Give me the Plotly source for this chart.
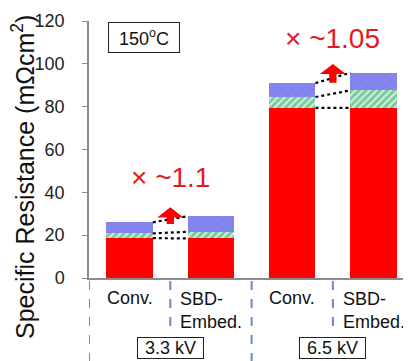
import plotly.graph_objects as go

# ---- data ----
categories = ["Conv. 3.3kV", "SBD-Embed. 3.3kV", "Conv. 6.5kV", "SBD-Embed. 6.5kV"]
red_vals = [18.6, 18.5, 79.4, 79.4]
green_vals = [2.2, 3.1, 5.1, 8.2]
blue_vals = [5.2, 7.3, 6.5, 8.25]
x_labels = ["Conv.", "SBD-<br>Embed.", "Conv.", "SBD-<br>Embed."]
group_labels = ["3.3 kV", "6.5 kV"]
ratio_labels = ["× ~1.1", "× ~1.05"]
y_ticks = [0, 20, 40, 60, 80, 100, 120]

xs = list(range(len(categories)))
W = 0.57
FONT = "Liberation Sans, Arial, sans-serif"

# plot area in screen pixels (page body has an 8px margin)
PX_L, PX_R, PX_T, PX_B = 89, 411, 21, 278
PW, PH = PX_R - PX_L, PX_B - PX_T


def px(x):
    return (x - PX_L) / PW


def py(y):
    return (PX_B - y) / PH


fig = go.Figure()
fig.add_trace(go.Bar(x=xs, y=red_vals, width=W, marker=dict(color="#ff0000", line=dict(width=0)),
                     showlegend=False, hoverinfo="skip"))
fig.add_trace(go.Bar(x=xs, y=green_vals, width=W,
                     marker=dict(color="#d0f2df", line=dict(width=0),
                                 pattern=dict(shape="/", fgcolor="#25a05c", bgcolor="#d0f2df",
                                              size=5, solidity=0.6, fillmode="overlay")),
                     showlegend=False, hoverinfo="skip"))
fig.add_trace(go.Bar(x=xs, y=blue_vals, width=W,
                     marker=dict(color="#8282f0", line=dict(width=0),
                                 pattern=dict(shape="x", fgcolor="#a6a6c6", bgcolor="#8282f0",
                                              size=7, solidity=0.15, fillmode="overlay")),
                     showlegend=False, hoverinfo="skip"))

# cumulative tops
tops = []
for i in xs:
    r = red_vals[i]
    g = r + green_vals[i]
    b = g + blue_vals[i]
    tops.append([r, g, b])

shapes = []
annotations = []
label_offsets = [17.8, 16.2]
for gi, (a, bidx) in enumerate([(0, 1), (2, 3)]):
    x0 = a + W / 2
    x1 = bidx - W / 2
    for k in range(3):
        fig.add_trace(go.Scatter(x=[x0, x1], y=[tops[a][k], tops[bidx][k]], mode="lines",
                                 line=dict(color="black", width=2.2, dash="dot"),
                                 showlegend=False, hoverinfo="skip"))
    # fat arrow
    xc = a + 0.5
    base = (tops[a][2] + tops[bidx][2]) / 2 - 2.2
    tip = tops[bidx][2] + 4.1
    hh = 4.7
    sw = 0.045
    hw = 0.16
    path = (f"M {xc-sw} {base} L {xc-sw} {tip-hh} L {xc-hw} {tip-hh} L {xc} {tip} "
            f"L {xc+hw} {tip-hh} L {xc+sw} {tip-hh} L {xc+sw} {base} Z")
    shapes.append(dict(type="path", path=path, xref="x", yref="y", fillcolor="#ff0000",
                       line=dict(width=0), layer="above"))
    # ratio label
    annotations.append(dict(x=xc, y=tops[bidx][2] + label_offsets[gi], xref="x", yref="y",
                            xanchor="center", yanchor="middle",
                            text=ratio_labels[gi], showarrow=False,
                            font=dict(size=28, color="#e3191f", family=FONT)))
    # group box
    annotations.append(dict(x=xc, y=py(348), xref="x", yref="paper", text=group_labels[gi],
                            xanchor="center", yanchor="middle",
                            showarrow=False, font=dict(size=18, color="#111", family=FONT),
                            bordercolor="#222", borderwidth=1, borderpad=1, width=63, height=18,
                            bgcolor="white"))

# category labels
for i in xs:
    two = "<br>" in x_labels[i]
    annotations.append(dict(x=i, y=py(310) if two else py(298), xref="x", yref="paper",
                            xanchor="center", yanchor="middle",
                            text=x_labels[i], showarrow=False, align="left",
                            font=dict(size=18, color="#111", family=FONT)))

# dashed separators
for j, xb in enumerate([-0.5, 0.5, 1.5, 2.5, 3.5]):
    full = (j % 2 == 0)
    shapes.append(dict(type="line", xref="x", yref="paper", x0=xb, x1=xb,
                       y0=py(281), y1=py(361) if full else py(328),
                       line=dict(color="#6a8ac6", width=2, dash="dash")))

# 150C box
annotations.append(dict(x=px(144), y=py(37.5), xref="paper", yref="paper", text="150<sup>o</sup>C",
                        xanchor="center", yanchor="middle",
                        showarrow=False, font=dict(size=18, color="#111", family=FONT),
                        bordercolor="#222", borderwidth=1, borderpad=1, width=68, height=27,
                        bgcolor="white"))

# y title
annotations.append(dict(x=px(23), y=py(177), xref="paper", yref="paper",
                        xanchor="center", yanchor="middle",
                        text="Specific Resistance (mΩcm<sup>2</sup>)", textangle=-90,
                        showarrow=False, font=dict(size=25, color="#111", family=FONT)))

fig.update_layout(
    width=411 - 8, height=361 - 8,
    margin=dict(l=PX_L - 8, r=0, t=PX_T - 8, b=361 - PX_B),
    barmode="stack",
    plot_bgcolor="white", paper_bgcolor="white",
    shapes=shapes, annotations=annotations,
    xaxis=dict(range=[-0.5, -0.5 + PW / 81.3], showticklabels=False, showgrid=False,
               zeroline=False, showline=True, linecolor="#8c8c8c", linewidth=1.5, ticks=""),
    yaxis=dict(range=[0, 120], tickvals=y_ticks, showgrid=False, zeroline=False,
               showline=True, linecolor="#8c8c8c", linewidth=1.5, ticks="outside",
               ticklen=5, tickcolor="#8c8c8c", ticklabelstandoff=14,
               tickfont=dict(size=18, color="#222", family=FONT)),
    font=dict(family=FONT),
)

fig.write_html("out.html")
